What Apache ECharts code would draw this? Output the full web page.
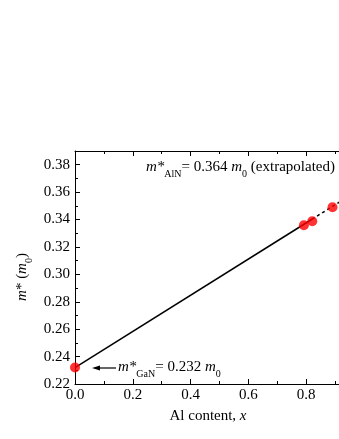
<!DOCTYPE html>
<html><head><meta charset="utf-8">
<script src="https://cdn.jsdelivr.net/npm/echarts@6/dist/echarts.min.js"></script>
<style>html,body{margin:0;padding:0;background:#fff}#c{width:339px;height:439px}</style>
</head><body><div id="c"></div>
<script>
// Data
const dataX = [0, 0.792, 0.821, 0.891];
const dataY = [0.232, 0.3358, 0.3388, 0.3490];
const fitSolidX = [0, 0.82];
const fitSolidY = [0.232, 0.3402];
const fitDashX = [0.82, 1.0];
const fitDashY = [0.3402, 0.364];
const xRange = [0, 1.0];
const yRange = [0.22, 0.39];
const xStep = 0.2;
const yStep = 0.02;
const annotTop = ['m*', 'AlN', '= 0.364 ', 'm', '0', ' (extrapolated)'];
const annotBot = ['m*', 'GaN', '= 0.232 ', 'm', '0'];
const xName = ['Al content, ', 'x'];
const yName = ['m', '* (', 'm', '0', ')'];

const F = "'Liberation Serif', 'Times New Roman', serif";
const rich = {
  i: {fontFamily: F, fontStyle: 'italic', fontSize: 15, color: '#000', lineHeight: 24},
  n: {fontFamily: F, fontSize: 15, color: '#000', lineHeight: 24},
  s: {fontFamily: F, fontSize: 10, color: '#000', lineHeight: 10, verticalAlign: 'top', padding: [14, 0, 0, 0]}
};
function pairs(xs, ys) { return xs.map((x, k) => [x, ys[k]]); }

const chart = echarts.init(document.getElementById('c'), null, {renderer: 'canvas'});
const axisCommon = {
  axisLine: {lineStyle: {color: '#000', width: 1}},
  axisTick: {inside: true, length: 5, lineStyle: {color: '#000'}},
  minorTick: {show: true, splitNumber: 2, length: 3, lineStyle: {color: '#000'}},
  splitLine: {show: false}
};
chart.setOption({
  animation: false,
  backgroundColor: '#fff',
  grid: {left: 75, right: -25, top: 151, bottom: 55, outerBoundsMode: 'none', containLabel: false},
  xAxis: [
    Object.assign({type: 'value', min: xRange[0], max: xRange[1], interval: xStep, position: 'bottom',
      axisLabel: {fontFamily: F, fontSize: 15, color: '#000', margin: 4, formatter: v => v.toFixed(1)}}, axisCommon),
    Object.assign({type: 'value', min: xRange[0], max: xRange[1], interval: xStep, position: 'top',
      axisLabel: {show: false}}, axisCommon)
  ],
  yAxis: [
    Object.assign({type: 'value', min: yRange[0], max: yRange[1], interval: yStep,
      axisLabel: {fontFamily: F, fontSize: 15, color: '#000', margin: 5, showMaxLabel: false,
        formatter: v => v.toFixed(2)}}, axisCommon)
  ],
  series: [
    {type: 'line', data: pairs(fitSolidX, fitSolidY), symbol: 'none', lineStyle: {color: '#000', width: 1.5}, z: 2},
    {type: 'line', data: pairs(fitDashX, fitDashY), symbol: 'none', lineStyle: {color: '#000', width: 1.5, type: [3, 3]}, z: 2},
    {type: 'scatter', data: pairs(dataX, dataY), symbol: 'circle', symbolSize: 10, itemStyle: {color: '#ff0000'}, z: 3}
  ],
  graphic: [
    {type: 'text', left: 146, top: 155, style: {
      text: '{i|' + annotTop[0] + '}{s|' + annotTop[1] + '}{n|' + annotTop[2] + '}{i|' + annotTop[3] + '}{s|' + annotTop[4] + '}{n|' + annotTop[5] + '}',
      rich: rich}},
    {type: 'text', left: 118, top: 355, style: {
      text: '{i|' + annotBot[0] + '}{s|' + annotBot[1] + '}{n|' + annotBot[2] + '}{i|' + annotBot[3] + '}{s|' + annotBot[4] + '}',
      rich: rich}},
    {type: 'line', shape: {x1: 97, y1: 368, x2: 116, y2: 368}, style: {stroke: '#000', lineWidth: 1.2}},
    {type: 'polygon', shape: {points: [[92, 368], [100, 365.5], [100, 370.5]]}, style: {fill: '#000'}},
    {type: 'text', x: 208, y: 416, style: {
      text: '{n|' + xName[0] + '}{i|' + xName[1] + '}', rich: rich, align: 'center', verticalAlign: 'middle'}},
    {type: 'text', x: 22, y: 277, rotation: Math.PI / 2, style: {
      text: '{i|' + yName[0] + '}{n|' + yName[1] + '}{i|' + yName[2] + '}{s|' + yName[3] + '}{n|' + yName[4] + '}',
      rich: rich, align: 'center', verticalAlign: 'middle'}}
  ]
});
</script></body></html>
